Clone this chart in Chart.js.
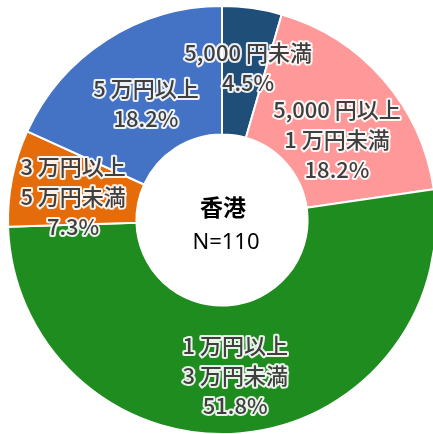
<!DOCTYPE html>
<html>
<head>
<meta charset="utf-8">
<script src="https://cdn.jsdelivr.net/npm/chart.js@4.4.0/dist/chart.umd.min.js"></script>
<style>
  html, body { margin: 0; padding: 0; background: #fff; overflow: hidden; }
  #wrap { position: relative; width: 450px; height: 440px; }
</style>
</head>
<body>
<div id="wrap"><canvas id="myChart"></canvas></div>
<script>
// slices clockwise from 12 o'clock
var categories = ['5,000 円未満', '5,000 円以上\n1 万円未満', '1 万円以上\n3 万円未満', '3 万円以上\n5 万円未満', '5 万円以上'];
var shares = [4.5, 18.2, 51.8, 7.3, 18.2];
var colors = ['#1f4e79', '#ff9999', '#1e8c1e', '#e46c0a', '#4472c4'];
var centerTitle = '香港';
var centerSub = 'N=110';

// small label shifts (px) away from the slice middle, like the hand-moved labels in the original
var labelShift = [[5, -10], [2, 12], [0, 0], [-2, 0], [5, 4]];
var labelFont = '500 22px "Noto Sans CJK JP", "Noto Sans", sans-serif';

var sliceLabels = {
    id: 'sliceLabels',
    afterDatasetsDraw: function (chart) {
        var ctx = chart.ctx;
        var meta = chart.getDatasetMeta(0);
        ctx.save();
        ctx.font = labelFont;
        ctx.textAlign = 'center';
        ctx.textBaseline = 'middle';
        ctx.lineJoin = 'round';
        meta.data.forEach(function (arc, i) {
            var pos = arc.tooltipPosition();
            var lines = categories[i].split('\n');
            lines.push(shares[i].toFixed(1) + '%');
            var lh = 30;
            var x = pos.x + labelShift[i][0];
            var y0 = pos.y + 6 + labelShift[i][1] - (lines.length - 1) * lh / 2;
            lines.forEach(function (t, k) {
                ctx.lineWidth = 4;
                ctx.strokeStyle = 'rgba(255,255,255,0.9)';
                ctx.strokeText(t, x, y0 + k * lh);
                ctx.fillStyle = '#3f3f3f';
                ctx.fillText(t, x, y0 + k * lh);
            });
        });
        // center text
        var a = meta.data[0];
        ctx.fillStyle = '#000';
        ctx.font = 'bold 23px "Noto Sans CJK JP", sans-serif';
        ctx.fillText(centerTitle, a.x + 1, a.y - 13);
        ctx.font = '22px "Noto Sans", sans-serif';
        ctx.fillText(centerSub, a.x + 4, a.y + 23);
        ctx.restore();
    }
};

var ctx = document.getElementById('myChart').getContext('2d');
new Chart(ctx, {
    type: 'doughnut',
    data: {
        labels: categories,
        datasets: [{
            data: shares,
            backgroundColor: colors,
            borderColor: '#ffffff',
            borderWidth: 2
        }]
    },
    options: {
        responsive: true,
        maintainAspectRatio: false,
        animation: false,
        cutout: '40%',
        layout: { padding: { left: 7, right: 13, top: 5, bottom: 5 } },
        plugins: {
            legend: { display: false },
            tooltip: { enabled: false }
        }
    },
    plugins: [sliceLabels]
});
</script>
</body>
</html>
